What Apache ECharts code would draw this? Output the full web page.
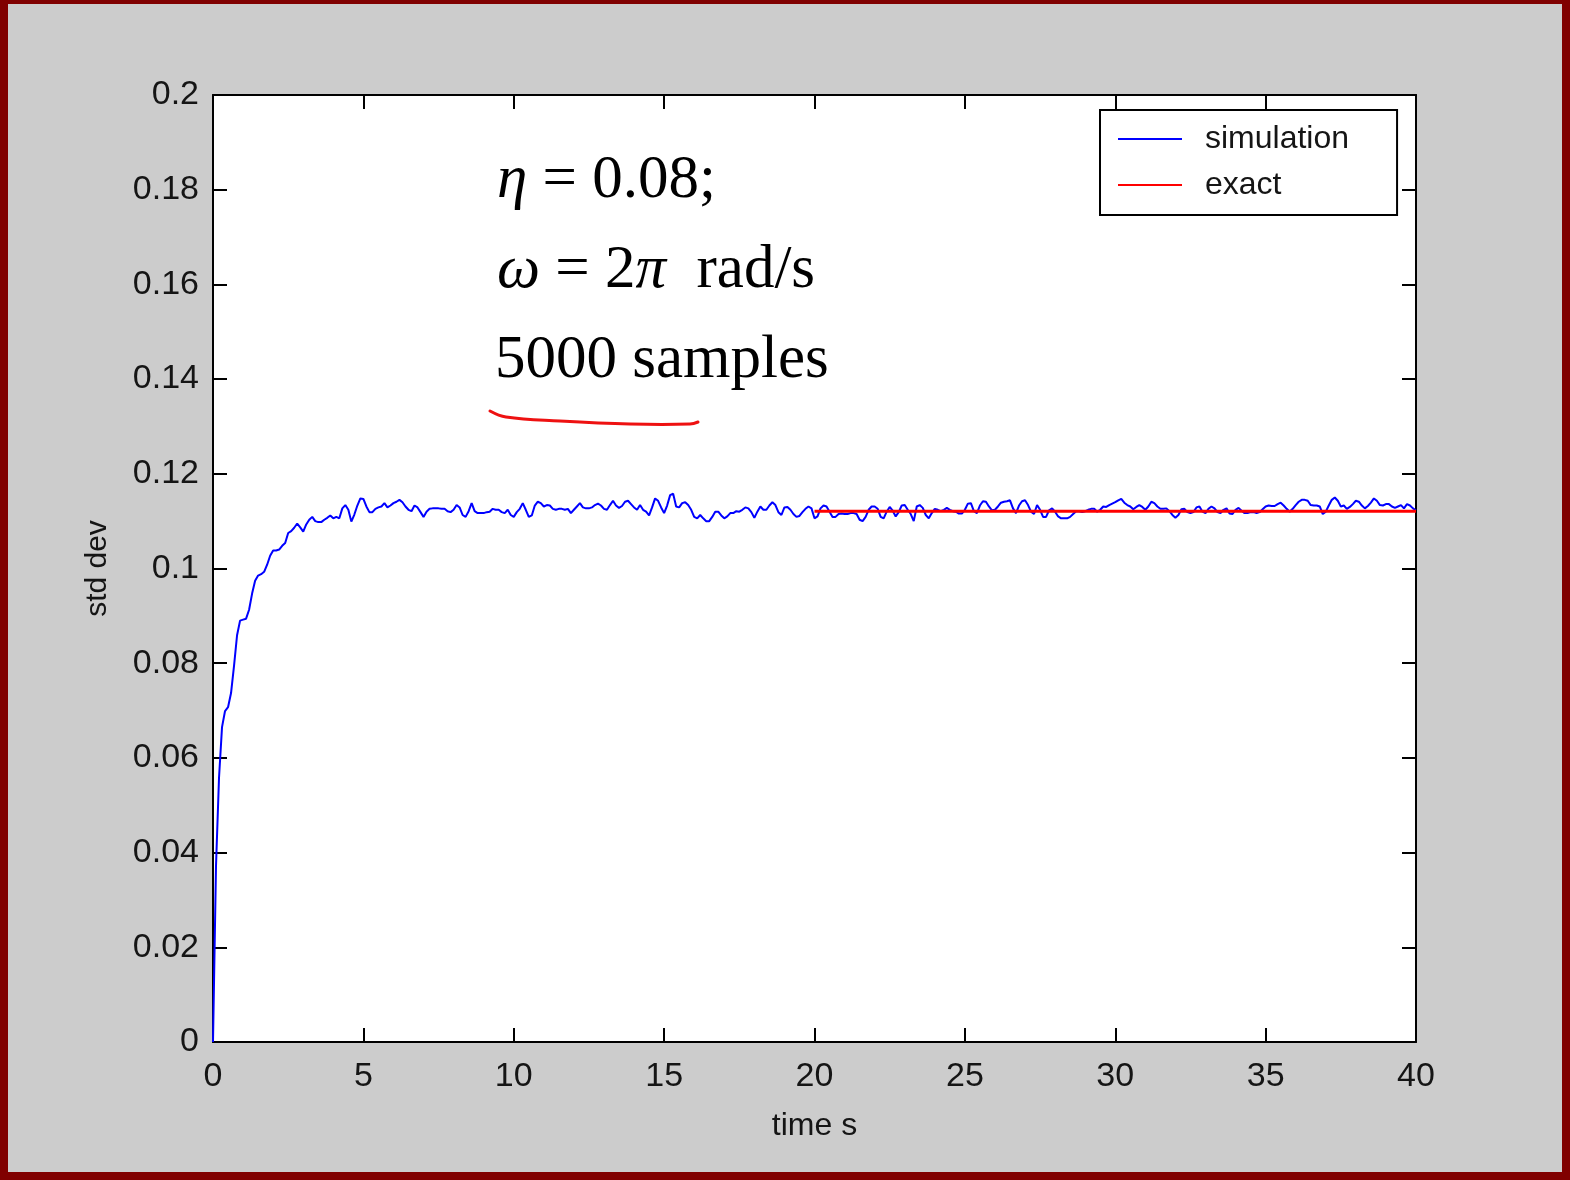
<!DOCTYPE html>
<html>
<head>
<meta charset="utf-8">
<script src="https://cdn.jsdelivr.net/npm/echarts@6/dist/echarts.min.js"></script>
<style>
html,body{margin:0;padding:0;background:#cccccc;}
#wrap{position:relative;width:1570px;height:1180px;}
#chart{position:absolute;left:0;top:0;width:1570px;height:1180px;}
#frame{position:absolute;left:0;top:0;width:1570px;height:1180px;box-sizing:border-box;border-style:solid;border-color:#800000;border-width:4px 8px 8px 8px;pointer-events:none;}
</style>
</head>
<body>
<div id="wrap"><div id="chart"></div><div id="frame"></div></div>
<script>
// ---- data ----
const timeStep = 0.1;            // seconds between simulation samples
const simulationValues = [
0, 0.0372, 0.0558, 0.0665, 0.0699, 0.0707, 0.0737, 0.0795, 0.0859, 0.0890,
0.0892, 0.0894, 0.0913, 0.0947, 0.0974, 0.0985, 0.0988, 0.0993, 0.1008, 0.1027,
0.1038, 0.1038, 0.1040, 0.1048, 0.1054, 0.1075,
0.1079, 0.1086, 0.1095, 0.1087, 0.1078, 0.1093, 0.1103, 0.1109, 0.1100, 0.1098,
0.1098, 0.1103, 0.1107, 0.1112, 0.1106, 0.1109, 0.1106, 0.1127, 0.1134, 0.1124,
0.1099, 0.1114, 0.1133, 0.1148, 0.1147, 0.1131, 0.1119, 0.1119, 0.1126, 0.1129,
0.1131, 0.1138, 0.1129, 0.1133, 0.1138, 0.1141, 0.1145, 0.1140, 0.1131, 0.1124,
0.1121, 0.1133, 0.1129, 0.1119, 0.1109, 0.1120, 0.1126, 0.1127, 0.1127, 0.1127,
0.1126, 0.1126, 0.1121, 0.1119, 0.1124, 0.1134, 0.1129, 0.1113, 0.1109, 0.1121,
0.1138, 0.1121, 0.1117, 0.1117, 0.1117, 0.1119, 0.1120, 0.1126, 0.1124, 0.1124,
0.1119, 0.1117, 0.1124, 0.1113, 0.1109, 0.1119, 0.1126, 0.1138, 0.1124, 0.1109,
0.1112, 0.1133, 0.1141, 0.1138, 0.1131, 0.1134, 0.1133, 0.1126, 0.1124, 0.1126,
0.1126, 0.1124, 0.1126, 0.1117, 0.1124, 0.1131, 0.1138, 0.1129, 0.1127, 0.1127,
0.1129, 0.1134, 0.1137, 0.1133, 0.1126, 0.1124, 0.1134, 0.1143, 0.1133, 0.1128,
0.1132, 0.1141, 0.1143, 0.1136, 0.1129, 0.1124, 0.1134, 0.1124, 0.1120, 0.1112,
0.1129, 0.1148, 0.1143, 0.1129, 0.1117, 0.1133, 0.1155, 0.1158, 0.1131, 0.1129,
0.1138, 0.1140, 0.1134, 0.1124, 0.1109, 0.1106, 0.1113, 0.1106, 0.1100, 0.1100,
0.1109, 0.1120, 0.1120, 0.1112, 0.1106, 0.1110, 0.1117, 0.1117, 0.1121, 0.1120,
0.1124, 0.1129, 0.1127, 0.1119, 0.1107, 0.1120, 0.1131, 0.1124, 0.1124, 0.1133,
0.1140, 0.1134, 0.1119, 0.1113, 0.1129, 0.1130, 0.1124, 0.1115, 0.1109, 0.1111,
0.1119, 0.1126, 0.1131, 0.1127, 0.1106, 0.1110, 0.1127, 0.1133, 0.1131, 0.1120,
0.1109, 0.1109, 0.1115, 0.1116, 0.1115, 0.1115, 0.1117, 0.1117, 0.1115, 0.1103,
0.1100, 0.1109, 0.1124, 0.1131, 0.1131, 0.1126,
0.1109, 0.1106, 0.1120, 0.1130, 0.1122, 0.1110, 0.1119, 0.1133, 0.1134, 0.1124,
0.1115, 0.1100, 0.1131, 0.1134, 0.1128, 0.1113, 0.1106, 0.1117, 0.1126, 0.1124,
0.1121, 0.1124, 0.1128, 0.1124, 0.1121, 0.1120, 0.1116, 0.1116, 0.1124, 0.1137,
0.1138, 0.1121, 0.1117, 0.1133, 0.1142, 0.1141, 0.1131, 0.1123, 0.1124, 0.1131,
0.1139, 0.1141, 0.1142, 0.1144, 0.1127, 0.1117, 0.1133, 0.1142, 0.1144, 0.1134,
0.1120, 0.1115, 0.1134, 0.1124, 0.1109, 0.1109, 0.1123, 0.1127, 0.1120, 0.1110,
0.1106, 0.1106, 0.1106, 0.1109, 0.1115, 0.1121, 0.1121, 0.1119, 0.1121, 0.1124,
0.1126, 0.1126, 0.1120, 0.1124, 0.1131, 0.1130, 0.1134, 0.1137, 0.1140, 0.1144,
0.1147, 0.1139, 0.1134, 0.1131, 0.1125, 0.1130, 0.1134, 0.1130, 0.1124, 0.1131,
0.1141, 0.1138, 0.1131, 0.1126, 0.1126, 0.1127,
0.1121, 0.1113, 0.1107, 0.1113, 0.1125, 0.1126, 0.1119, 0.1117, 0.1119, 0.1129,
0.1131, 0.1120, 0.1117, 0.1126, 0.1131, 0.1127, 0.1119, 0.1117, 0.1124, 0.1127,
0.1116, 0.1115, 0.1124, 0.1128, 0.1122, 0.1117, 0.1117, 0.1119, 0.1119, 0.1117,
0.1119, 0.1125, 0.1131, 0.1133, 0.1132, 0.1132, 0.1136, 0.1139, 0.1133, 0.1126,
0.1120, 0.1126, 0.1134, 0.1141, 0.1145, 0.1145, 0.1143, 0.1134, 0.1133, 0.1133,
0.1131, 0.1115, 0.1120, 0.1133, 0.1145, 0.1150, 0.1143, 0.1131, 0.1133, 0.1126,
0.1130, 0.1136, 0.1143, 0.1141, 0.1133, 0.1127, 0.1132, 0.1139, 0.1148, 0.1143,
0.1134, 0.1133, 0.1136, 0.1136, 0.1131, 0.1128, 0.1131, 0.1134, 0.1127, 0.1136,
0.1133, 0.1127, 0.1123
];
const exactTimes = [20, 40];
const exactValues = [0.1121, 0.1121];
const seriesNames = ['simulation', 'exact'];
const xTicks = { min: 0, max: 40, interval: 5 };
const yTicks = { min: 0, max: 0.2, interval: 0.02 };
const xAxisTitle = 'time s';
const yAxisTitle = 'std dev';

// ---- build chart ----
const simData = simulationValues.map((v, i) => [Math.round(i * timeStep * 10) / 10, v]);
const exactData = exactTimes.map((t, i) => [t, exactValues[i]]);

const sans = "'Liberation Sans', Arial, sans-serif";
const serif = "'Liberation Serif', 'Times New Roman', serif";
const ink = '#151515';

const chart = echarts.init(document.getElementById('chart'), null, { renderer: 'canvas' });

const axisCommon = {
  axisLine: { show: true, onZero: false, lineStyle: { color: '#000', width: 2 } },
  axisTick: { show: true, inside: true, length: 14, lineStyle: { color: '#000', width: 2 } },
  splitLine: { show: false }
};

chart.setOption({
  backgroundColor: '#cccccc',
  animation: false,
  grid: { left: 213, top: 95, right: 154, bottom: 138, show: true, backgroundColor: '#ffffff', borderWidth: 0 },
  legend: {
    orient: 'vertical',
    left: 1100, top: 110,
    backgroundColor: '#ffffff',
    borderColor: '#000', borderWidth: 2, borderRadius: 0,
    padding: [11, 48, 12, 18],
    icon: 'rect',
    itemWidth: 64, itemHeight: 2, itemGap: 10,
    textStyle: { fontFamily: sans, fontSize: 32, color: ink, padding: [0, 0, 0, 18], lineHeight: 36 },
    data: seriesNames
  },
  xAxis: [
    Object.assign({}, axisCommon, {
      type: 'value', position: 'bottom', min: xTicks.min, max: xTicks.max, interval: xTicks.interval,
      name: xAxisTitle, nameLocation: 'middle', nameGap: 68,
      nameTextStyle: { fontFamily: sans, fontSize: 32, color: ink },
      axisLabel: { fontFamily: sans, fontSize: 34, color: ink, margin: 18 }
    }),
    Object.assign({}, axisCommon, {
      type: 'value', position: 'top', min: xTicks.min, max: xTicks.max, interval: xTicks.interval,
      axisLabel: { show: false }
    })
  ],
  yAxis: [
    Object.assign({}, axisCommon, {
      type: 'value', position: 'left', min: yTicks.min, max: yTicks.max, interval: yTicks.interval,
      name: yAxisTitle, nameLocation: 'middle', nameGap: 100, nameRotate: 90,
      nameTextStyle: { fontFamily: sans, fontSize: 30, color: ink },
      axisLabel: { fontFamily: sans, fontSize: 34, color: ink, margin: 14 }
    }),
    Object.assign({}, axisCommon, {
      type: 'value', position: 'right', min: yTicks.min, max: yTicks.max, interval: yTicks.interval,
      axisLabel: { show: false }
    })
  ],
  series: [
    {
      name: seriesNames[0], type: 'line', xAxisIndex: 0, yAxisIndex: 0,
      data: simData, symbol: 'none', showSymbol: false,
      lineStyle: { color: '#0000ff', width: 2 }, itemStyle: { color: '#0000ff' }
    },
    {
      name: seriesNames[1], type: 'line', xAxisIndex: 0, yAxisIndex: 0,
      data: exactData, symbol: 'none', showSymbol: false,
      lineStyle: { color: '#ff0000', width: 3 }, itemStyle: { color: '#ff0000' }
    }
  ],
  graphic: [
    {
      type: 'text', left: 497, top: 150, z: 100,
      style: {
        text: '{i|η} = 0.08;',
        font: '61px ' + serif, fill: '#000',
        rich: { i: { fontStyle: 'italic', fontFamily: serif, fontSize: 61, fill: '#000' } }
      }
    },
    {
      type: 'text', left: 497, top: 240, z: 100,
      style: {
        text: '{i|ω} = 2{i|π}\u00a0\u00a0rad/s',
        font: '61px ' + serif, fill: '#000',
        rich: { i: { fontStyle: 'italic', fontFamily: serif, fontSize: 61, fill: '#000' } }
      }
    },
    {
      type: 'text', left: 495, top: 330, z: 100,
      style: { text: '5000 samples', font: '61px ' + serif, fill: '#000' }
    },
    {
      type: 'polyline', z: 100,
      shape: { points: [[490, 411], [506, 417], [560, 421], [630, 424], [690, 424], [698, 422]], smooth: 0.4 },
      style: { stroke: '#ee1111', lineWidth: 3, fill: null, lineCap: 'round' }
    }
  ]
});
</script>
</body>
</html>
